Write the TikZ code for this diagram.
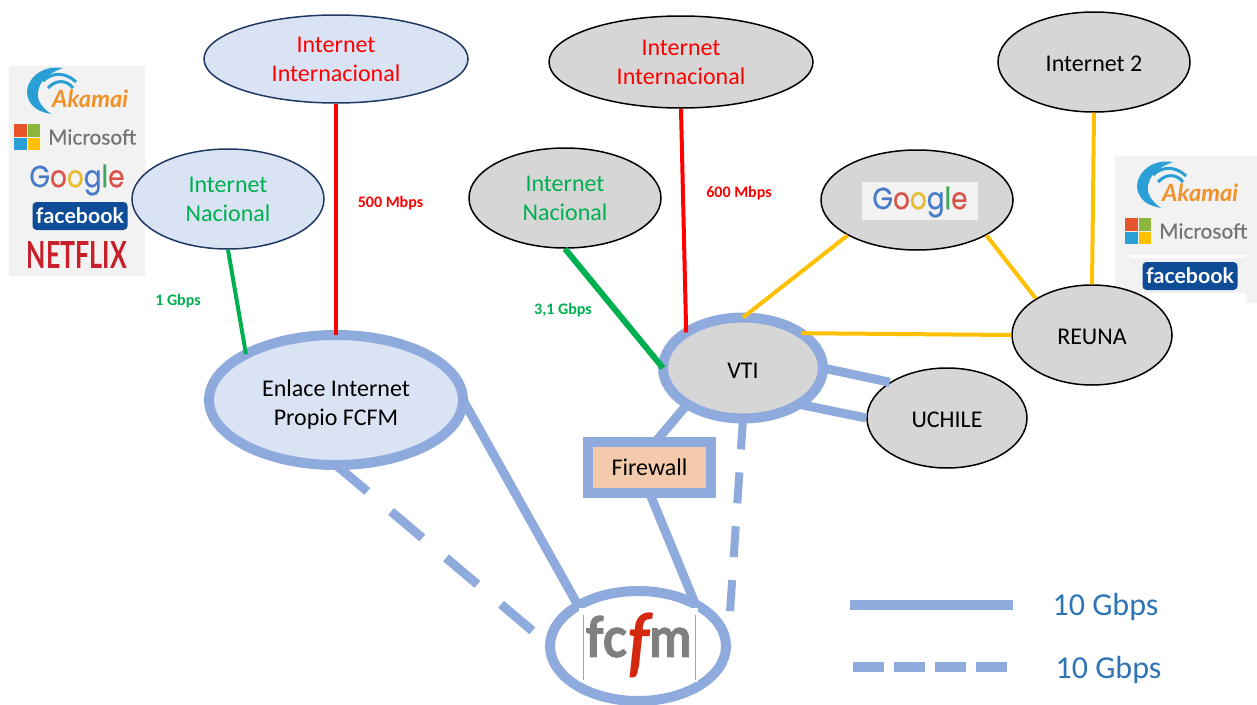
\documentclass[tikz,border=0pt]{standalone}
\usepackage{fontspec}
\setmainfont{Carlito}
\newfontfamily\logofont{Lato}
\newfontfamily\msfont[FakeBold=0.5]{Lato}
\newfontfamily\googlefont[FakeBold=0.6]{Poppins}
\newfontfamily\fcfmfont[BoldFeatures={FakeBold=1.5}]{Lato}
\usetikzlibrary{shapes.geometric}
\definecolor{ringblue}{HTML}{8FAADC}
\definecolor{paleblue}{HTML}{DAE3F3}
\definecolor{navyline}{HTML}{1F3864}
\definecolor{greyfill}{HTML}{D6D6D6}
\definecolor{panelgrey}{HTML}{F2F2F2}
\definecolor{linkgreen}{HTML}{00B050}
\definecolor{linkyellow}{HTML}{FFC000}
\definecolor{fwfill}{HTML}{F4CAAC}
\definecolor{legendblue}{HTML}{2E75B6}
\definecolor{fbblue}{HTML}{0F4C97}
\definecolor{akblue}{HTML}{2A9FD6}
\definecolor{akorange}{HTML}{F0912A}
\definecolor{msgrey}{HTML}{757575}
\definecolor{msred}{HTML}{E8542A}
\definecolor{msgreen}{HTML}{8DB63C}
\definecolor{flixred}{HTML}{C8202B}
\definecolor{fcfmgrey}{HTML}{7F7F7F}
\definecolor{fcfmred}{HTML}{D5290F}
\definecolor{gooblue}{HTML}{4A7BC8}
\definecolor{goored}{HTML}{D9534A}
\definecolor{gooyellow}{HTML}{E8B931}
\definecolor{googreen}{HTML}{3FA757}
\tikzset{
  nettext/.style={inner sep=0pt,align=center,font=\fontsize{24}{29}\selectfont,execute at begin node={\rule{0pt}{20pt}}},
  bluenet/.style={ellipse,draw=navyline,fill=paleblue,line width=1.5pt,nettext},
  greynet/.style={ellipse,draw=black,fill=greyfill,line width=1.5pt,nettext},
  ringnet/.style={ellipse,draw=ringblue,line width=10pt,outer sep=0pt,nettext},
  speed/.style={inner sep=0pt,font=\fontsize{16}{18}\selectfont\bfseries},
  legendtext/.style={inner sep=0pt,text=legendblue,font=\fontsize{32}{34}\selectfont},
  thickline/.style={ringblue,line width=9pt},
  dashline/.style={ringblue,line width=8pt},
  yellowline/.style={linkyellow,line width=4pt},
  logotxt/.style={inner sep=0pt,anchor=west},
  akamai/.pic={
    \fill[akblue] (36,1) .. controls (12,-3) and (-4,16) .. (1,31) .. controls (5,42) and (14,45) .. (24,47) .. controls (14,40) and (8,31) .. (12,21) .. controls (15,11) and (25,5) .. (36,1) -- cycle;
    \draw[akblue,line width=3pt] (16,14) .. controls (26,4) and (40,6) .. (49,15);
    \draw[akblue,line width=3pt] (21,21) .. controls (29,12) and (40,13) .. (46,21);
    \node[logotxt] (-txt) at (25,32) {\resizebox{76pt}{!}{\color{akorange}\logofont\bfseries\itshape Akamai}};
  },
  microsoft/.pic={
    \fill[msred] (0,0) rectangle (12.5,12.5);
    \fill[msgreen] (13.5,0) rectangle (26,12.5);
    \fill[akblue] (0,13.5) rectangle (12.5,26);
    \fill[linkyellow] (13.5,13.5) rectangle (26,26);
    \node[logotxt] (-txt) at (34,13) {\resizebox{88pt}{!}{\color{msgrey}\msfont Microsoft}};
  },
  facebook/.pic={
    \node[fill=fbblue,rounded corners=4pt,minimum width=95pt,minimum height=28pt,inner sep=0pt] (-txt) at (0,0) {\resizebox{88pt}{!}{\color{white}\logofont\bfseries facebook}};
  },
  googleword/.pic={
    \node[inner sep=0pt] (-txt) at (0,0) {\resizebox*{95pt}{31pt}{\googlefont\textcolor{gooblue}{G}\textcolor{goored}{o}\textcolor{gooyellow}{o}\textcolor{gooblue}{g}\textcolor{googreen}{l}\textcolor{goored}{e}}};
  }
}
\begin{document}
\begin{tikzpicture}[x=1pt,y=-1pt]
\useasboundingbox (0,0) rectangle (1257,704);
% logo panels
\fill[panelgrey] (9,66) rectangle (145,276);
\fill[panelgrey] (1115,156) rectangle (1257,293);
\fill[panelgrey] (1246,293) rectangle (1257,303);
\fill[white] (1130,255) rectangle (1246,258);
\pic (akamaiL) at (27,67) {akamai};
\pic (msL) at (14,124) {microsoft};
\pic (googleL) at (77,180) {googleword};
\pic (fbL) at (80,216) {facebook};
\node[inner sep=0pt] (netflixL) at (77,255) {\resizebox{100pt}{27pt}{\color{flixred}\logofont\bfseries NETFLIX}};
\pic (akamaiR) at (1137,161) {akamai};
\pic (msR) at (1125,218) {microsoft};
\pic (fbR) at (1190,276) {facebook};
% networks
\node[bluenet,minimum width=264pt,minimum height=88pt,text=red] (intlL) at (336,59) {Internet\\Internacional};
\node[bluenet,minimum width=192pt,minimum height=100pt,text=linkgreen] (nacL) at (228,199) {Internet\\Nacional};
\node[ringnet,fill=paleblue,minimum width=254pt,minimum height=130pt] (enlace) at (336,400) {};
\node[nettext] (enlacetxt) at (336,405) {Enlace Internet\\Propio FCFM};
\node[greynet,minimum width=264pt,minimum height=92pt,text=red] (intlR) at (681,62) {Internet\\Internacional};
\node[greynet,minimum width=192pt,minimum height=100pt,text=linkgreen] (nacR) at (565,198) {Internet\\Nacional};
\node[greynet,minimum width=192pt,minimum height=100pt] (goo) at (917,200) {};
\node[greynet,minimum width=192pt,minimum height=100pt] (int2) at (1094,62) {Internet 2};
\node[greynet,minimum width=160pt,minimum height=100pt] (reuna) at (1092,335) {REUNA};
\node[greynet,minimum width=160pt,minimum height=100pt] (uchile) at (947,418) {UCHILE};
\node[ringnet,fill=greyfill,minimum width=160pt,minimum height=101pt] (vti) at (743,368) {VTI};
\node[rectangle,draw=ringblue,fill=fwfill,line width=10pt,outer sep=0pt,inner sep=0pt,minimum width=123pt,minimum height=51pt,font=\fontsize{24}{29}\selectfont] (fw) at (649.5,467.5) {Firewall};
\node[ellipse,draw=ringblue,line width=10pt,inner sep=0pt,outer sep=0pt,minimum width=176pt,minimum height=110pt] (fcfm) at (638,646) {};
\node[fill=panelgrey,inner sep=0pt,minimum width=116pt,minimum height=38pt] (goobox) at (920,201) {};
\pic (googleG) at (920,202) {googleword};
% free ends of the dashed links
\coordinate (dashL) at (535,633);
\coordinate (dashR) at (730,612);
% links
\draw[red,line width=4.5pt] (intlL.south) -- (enlace.north);
\draw[red,line width=4pt] (intlR.south) -- (vti.148);
\draw[linkgreen,line width=4pt] (nacL.south) -- (enlace.153);
\draw[linkgreen,line width=6pt] (nacR.south) -- (vti.west);
\draw[yellowline] (vti.north) -- (goo.207);
\draw[yellowline] (goo.333) -- (reuna.147);
\draw[yellowline] (vti.31) -- (reuna.west);
\draw[yellowline] (reuna.north) -- (int2.south);
\draw[thickline] (vti.east) -- (uchile.148);
\draw[thickline] (vti.-33) -- (uchile.west);
\draw[thickline] (vti.213) -- (fw.77);
\draw[thickline] (fw.south) -- (fcfm.36);
\draw[thickline] (enlace.east) -- (fcfm.146);
\draw[thickline,dash pattern=on 41pt off 31pt] (enlace.south) -- (dashL);
\draw[dashline,dash pattern=on 31pt off 23pt] (vti.south) -- (dashR);
\node[fill=white,inner sep=0pt,minimum width=119pt,minimum height=74pt] (fcfmlogo) at (638.5,645) {\resizebox*{106pt}{65pt}{\fcfmfont\bfseries\color{fcfmgrey}fc\textcolor{fcfmred}{\raisebox{-.2em}{\scalebox{1.35}{\itshape f}}}m}};
\draw[fcfmgrey!70,line width=1pt] (583,615) -- (583,680);
\draw[fcfmgrey!70,line width=1pt] (695,615) -- (695,680);
% speeds
\node[speed,text=red] (s500) at (390.5,203.5) {500 Mbps};
\node[speed,text=red] (s600) at (739,193.5) {600 Mbps};
\node[speed,text=linkgreen] (s1) at (178,301) {1 Gbps};
\node[speed,text=linkgreen] (s31) at (563,310) {3,1 Gbps};
% legend
\coordinate (legA) at (850,605);
\coordinate (legB) at (1013,605);
\coordinate (legC) at (853,667);
\coordinate (legD) at (1008,667);
\draw[ringblue,line width=10pt] (legA) -- (legB);
\draw[ringblue,line width=10pt,dash pattern=on 31pt off 10pt] (legC) -- (legD);
\node[legendtext] (leg1) at (1105.5,607) {10 Gbps};
\node[legendtext] (leg2) at (1108.5,670) {10 Gbps};
\end{tikzpicture}
\end{document}
